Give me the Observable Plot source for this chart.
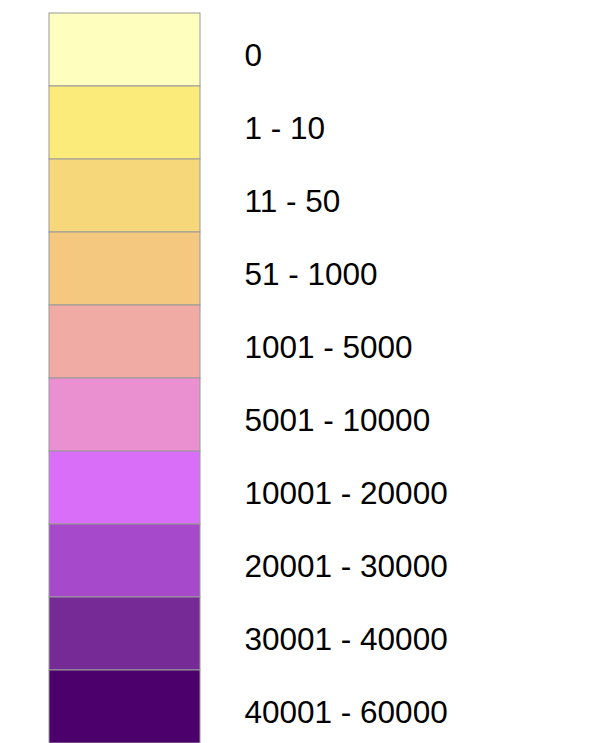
<!DOCTYPE html>
<html>
<head>
<meta charset="utf-8">
<script src="https://cdn.jsdelivr.net/npm/d3@7"></script>
<script src="https://cdn.jsdelivr.net/npm/@observablehq/plot@0.6"></script>
<style>
  html, body { margin: 0; padding: 0; background: #fff; }
  svg { display: block; }
</style>
</head>
<body>
<div id="chart"></div>
<script>
const categories = ["0", "1 - 10", "11 - 50", "51 - 1000", "1001 - 5000", "5001 - 10000", "10001 - 20000", "20001 - 30000", "30001 - 40000", "40001 - 60000"];
const colors = ["#fefebe", "#fbeb7a", "#f6d77a", "#f4c87e", "#f0aca4", "#ea8fd0", "#d96ef8", "#a64acb", "#762a96", "#4b006c"];

const data = categories.map((c) => ({ category: c }));

const chart = Plot.plot({
  width: 598,
  height: 743,
  marginLeft: 49,
  marginRight: 398,
  marginTop: 0,
  marginBottom: 0,
  style: { fontFamily: "'Liberation Sans', Arial, sans-serif", background: "#fff" },
  x: { type: "band", domain: ["swatch"], padding: 0, axis: null },
  y: { type: "band", domain: categories, range: [12, 744], padding: 0, axis: null },
  color: { type: "ordinal", domain: categories, range: colors },
  marks: [
    Plot.cell(data, { x: () => "swatch", y: "category", fill: "category", stroke: "#999", strokeWidth: 1, inset: 0 }),
    Plot.axisY({ anchor: "right", tickSize: 0, tickPadding: 44, fontSize: 31.5, dy: 6, textAnchor: "start", fill: "#000", label: null })
  ]
});
document.getElementById("chart").appendChild(chart);
</script>
</body>
</html>
